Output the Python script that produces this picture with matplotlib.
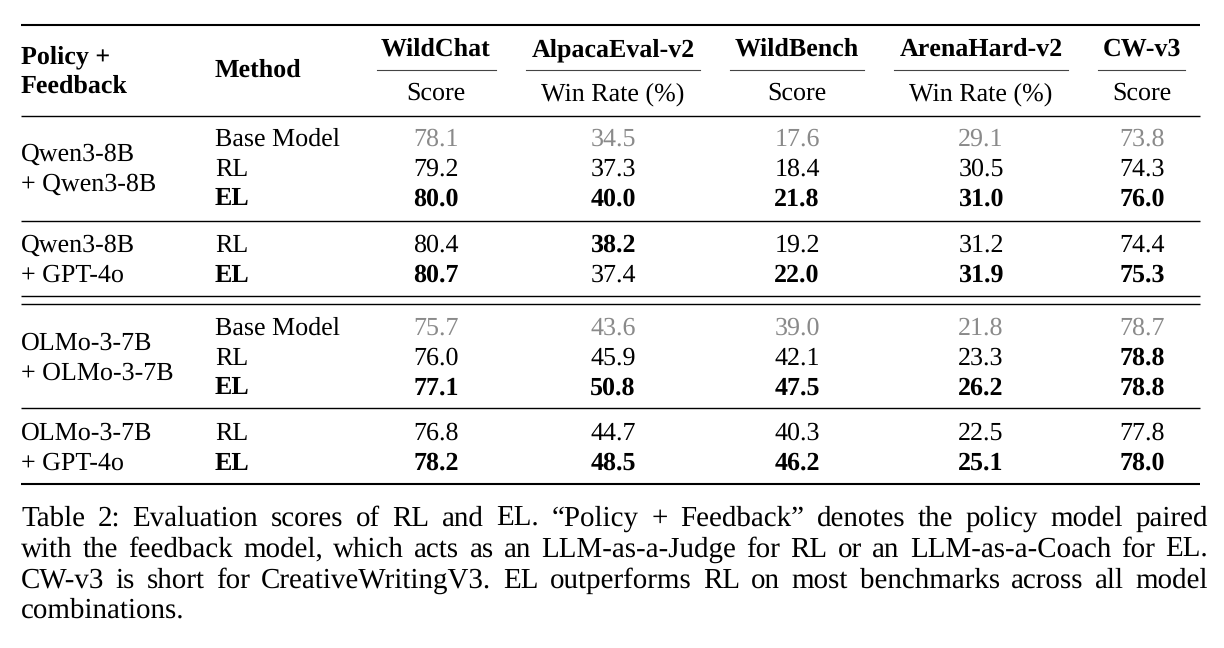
import matplotlib.pyplot as plt

plt.rcParams['font.family'] = ['Liberation Serif', 'DejaVu Serif']
plt.rcParams['text.hinting'] = 'no_hinting'
plt.rcParams['text.hinting_factor'] = 1

benchmarks = ['WildChat', 'AlpacaEval-v2', 'WildBench', 'ArenaHard-v2', 'CW-v3']
metrics = ['Score', 'Win Rate (%)', 'Score', 'Win Rate (%)', 'Score']

policy_labels = [['Qwen3-8B', '+ Qwen3-8B'],
                 ['Qwen3-8B', '+ GPT-4o'],
                 ['OLMo-3-7B', '+ OLMo-3-7B'],
                 ['OLMo-3-7B', '+ GPT-4o']]
methods = [['Base Model', 'RL', 'EL'],
           ['RL', 'EL'],
           ['Base Model', 'RL', 'EL'],
           ['RL', 'EL']]
scores = [
    [[78.1, 34.5, 17.6, 29.1, 73.8],
     [79.2, 37.3, 18.4, 30.5, 74.3],
     [80.0, 40.0, 21.8, 31.0, 76.0]],
    [[80.4, 38.2, 19.2, 31.2, 74.4],
     [80.7, 37.4, 22.0, 31.9, 75.3]],
    [[75.7, 43.6, 39.0, 21.8, 78.7],
     [76.0, 45.9, 42.1, 23.3, 78.8],
     [77.1, 50.8, 47.5, 26.2, 78.8]],
    [[76.8, 44.7, 40.3, 22.5, 77.8],
     [78.2, 48.5, 46.2, 25.1, 78.0]],
]

caption_lines = [
    'Table 2: Evaluation scores of RL and EL. \u201cPolicy + Feedback\u201d denotes the policy model paired',
    'with the feedback model, which acts as an LLM-as-a-Judge for RL or an LLM-as-a-Coach for EL.',
    'CW-v3 is short for CreativeWritingV3. EL outperforms RL on most benchmarks across all model',
    'combinations.',
]

W, H = 1224, 648
fig = plt.figure(figsize=(W / 100, H / 100), dpi=100)
ax = fig.add_axes([0, 0, 1, 1])
ax.set_xlim(0, W)
ax.set_ylim(H, 0)
ax.axis('off')

fs = 19
cap_fs = 21
gray = '#8a8a8a'
x_left, x_right = 21, 1200
x_method = 215
col_x = [436, 613, 797, 981, 1142]
cmid = [(377, 496), (526, 700), (730, 864), (894, 1068), (1098, 1185)]


def rule(y, lw):
    ax.plot([x_left, x_right], [y, y], color='black', lw=lw, solid_capstyle='butt')


# header
rule(25, 1.5)
ax.text(x_left, 63, 'Policy +', fontsize=fs, fontweight='bold', va='baseline')
ax.text(x_left, 93, 'Feedback', fontsize=fs, fontweight='bold', va='baseline')
ax.text(x_method, 77, 'Method', fontsize=fs, fontweight='bold', va='baseline')
for x, name, met, (a, b) in zip(col_x, benchmarks, metrics, cmid):
    ax.text(x, 56, name, fontsize=fs, fontweight='bold', ha='center', va='baseline')
    ax.plot([a, b], [70, 70], color='#444444', lw=0.8)
    ax.text(x, 100, met, fontsize=fs, ha='center', va='baseline')
rule(116, 1.0)

# body
row_h = 29.6
block_tops = [146, 252, 335, 440]
block_rules = [(221,), (296, 304), (408,), ()]
for labels, meths, vals, y0, rules in zip(policy_labels, methods, scores, block_tops, block_rules):
    n = len(meths)
    ys = [y0 + i * row_h for i in range(n)]
    mid = (ys[0] + ys[-1]) / 2
    ax.text(x_left, mid - row_h / 2, labels[0], fontsize=fs, va='baseline')
    ax.text(x_left, mid + row_h / 2, labels[1], fontsize=fs, va='baseline')
    trained = [v for m, v in zip(meths, vals) if m != 'Base Model']
    best = [max(col) for col in zip(*trained)]
    for m, row, y in zip(meths, vals, ys):
        base = m == 'Base Model'
        ax.text(x_method, y, m, fontsize=fs, va='baseline',
                fontweight='bold' if m == 'EL' else 'normal')
        for j, v in enumerate(row):
            bold = (not base) and v == best[j]
            ax.text(col_x[j], y, f'{v:.1f}', fontsize=fs, ha='center', va='baseline',
                    color=gray if base else 'black',
                    fontweight='bold' if bold else 'normal')
    for r in rules:
        rule(r, 1.0)
rule(484, 1.5)

# caption, justified word by word
renderer = fig.canvas.get_renderer()
sp = ax.text(0, 0, 'a a', fontsize=cap_fs)
sa = ax.text(0, 0, 'aa', fontsize=cap_fs)
space_w = sp.get_window_extent(renderer).width - sa.get_window_extent(renderer).width
sp.remove()
sa.remove()

cap_x0, cap_x1 = 21, 1208
cap_y = [526, 557, 588, 618]
for k, (line, y) in enumerate(zip(caption_lines, cap_y)):
    ln = line.split(' ')
    texts = [ax.text(0, y, w, fontsize=cap_fs, va='baseline') for w in ln]
    widths = [t.get_window_extent(renderer).width for t in texts]
    last = k == len(caption_lines) - 1
    gap = space_w if last else (cap_x1 - cap_x0 - sum(widths)) / (len(ln) - 1)
    x = cap_x0
    for t, w in zip(texts, widths):
        t.set_x(x)
        x += w + gap

fig.savefig('out.png', dpi=100, facecolor='white')
